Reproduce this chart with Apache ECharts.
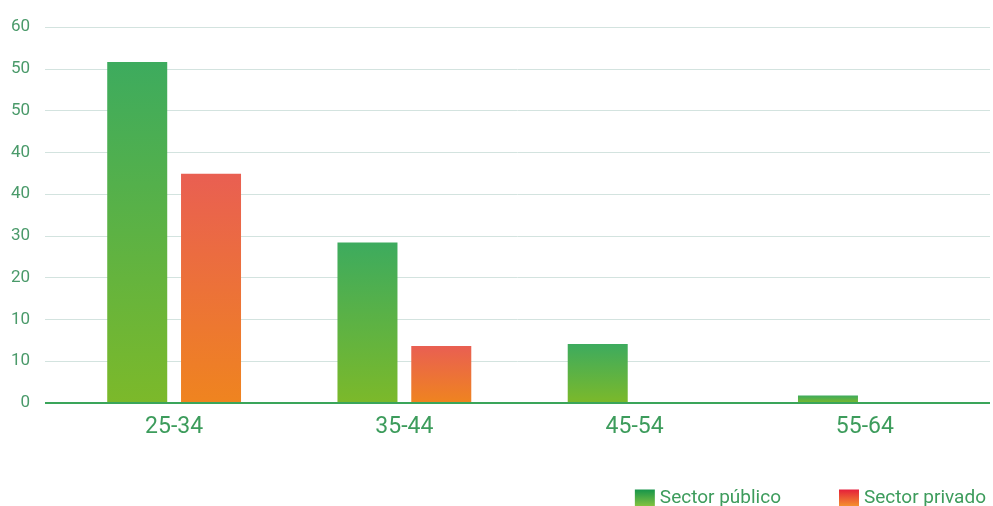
<!DOCTYPE html>
<html>
<head>
<meta charset="utf-8">
<script src="https://cdn.jsdelivr.net/npm/echarts@6/dist/echarts.min.js"></script>
<style>html,body{margin:0;padding:0;background:#fff}#c{width:993px;height:506px}</style>
</head>
<body>
<div id="c"></div>
<script>
var categories = ['25-34', '35-44', '45-54', '55-64'];
var publico = [54.4, 25.6, 9.4, 1.2];
var privado = [36.6, 9.1, null, null];
var yTickLabels = ['0', '10', '10', '20', '30', '40', '40', '50', '50', '60'];
var seriesNames = ['Sector público', 'Sector privado'];

var yMax = 60, steps = yTickLabels.length - 1, step = yMax / steps;
function grad(top, bottom) {
  return new echarts.graphic.LinearGradient(0, 0, 0, 1, [{offset: 0, color: top}, {offset: 1, color: bottom}]);
}
var chart = echarts.init(document.getElementById('c'), null, {renderer: 'canvas'});
var font = 'Roboto, "Noto Sans", sans-serif';
chart.setOption({
  animation: false,
  backgroundColor: '#fff',
  legend: {
    right: 2, top: 484, icon: 'rect',
    itemWidth: 20, itemHeight: 18, itemGap: 58,
    textStyle: {color: '#3d9c5c', fontSize: 19, fontFamily: font},
    data: [
      {name: seriesNames[0], itemStyle: {color: grad('#16954a', '#8cc63f')}},
      {name: seriesNames[1], itemStyle: {color: grad('#e51f3a', '#f59a2c')}}
    ]
  },
  grid: [
    {left: 45, right: 3, top: 27, bottom: 103},
    {left: 59, right: 13, top: 27, bottom: 103}
  ],
  xAxis: [
    {gridIndex: 0, type: 'category', data: categories, show: false},
    {gridIndex: 1, type: 'category', data: categories,
     axisLine: {show: false}, axisTick: {show: false},
     axisLabel: {color: '#3d9c5c', fontSize: 23, fontFamily: font, margin: 13}}
  ],
  yAxis: [
    {gridIndex: 0, type: 'value', min: 0, max: yMax, interval: step,
     axisLine: {show: false}, axisTick: {show: false},
     splitLine: {lineStyle: {color: '#d3e3df', width: 1}},
     axisLabel: {color: '#4a9a6a', fontSize: 17, fontFamily: font, margin: 15,
       formatter: function (v) { return yTickLabels[Math.round(v / step)]; }}},
    {gridIndex: 1, type: 'value', min: 0, max: yMax, interval: step, show: false,
     splitLine: {show: false}}
  ],
  series: [
    {name: seriesNames[0], type: 'bar', xAxisIndex: 1, yAxisIndex: 1, data: publico,
     barWidth: 60, barGap: '23%', itemStyle: {color: grad('#3dab5e', '#7cb92a')}},
    {name: seriesNames[1], type: 'bar', xAxisIndex: 1, yAxisIndex: 1, data: privado,
     barWidth: 60, barGap: '23%', itemStyle: {color: grad('#e95f52', '#ef841f')}},
    {type: 'line', xAxisIndex: 0, yAxisIndex: 0, data: [], silent: true,
     markLine: {symbol: 'none', silent: true, label: {show: false},
       lineStyle: {color: '#3aa55a', width: 2, type: 'solid'},
       data: [{yAxis: 0}]}}
  ]
});
</script>
</body>
</html>
